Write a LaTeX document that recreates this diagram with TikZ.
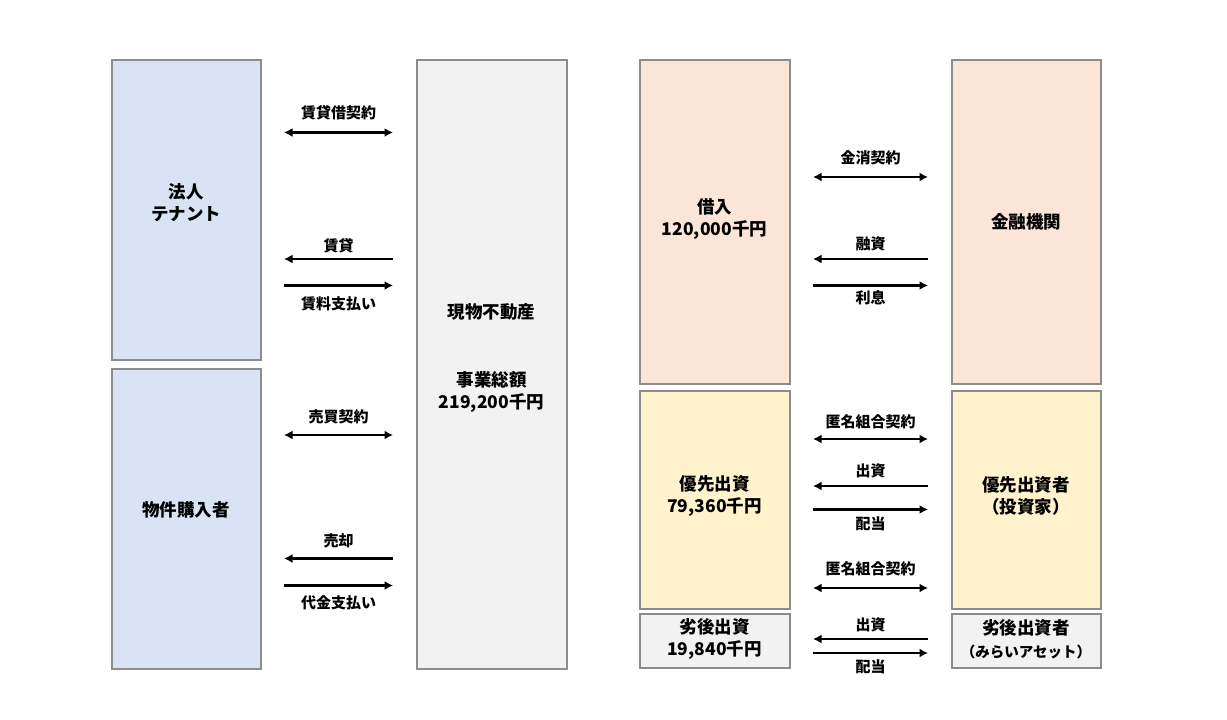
\documentclass[tikz,border=0pt]{standalone}
\usepackage{fontspec}
\setmainfont{Noto Sans CJK JP}
\usepackage{xcolor}
\usetikzlibrary{arrows.meta,calc}

\definecolor{edgegray}{HTML}{8C8C8C}
\definecolor{tenantblue}{HTML}{DAE3F3}
\definecolor{assetgray}{HTML}{F2F2F2}
\definecolor{loanpeach}{HTML}{FBE5D6}
\definecolor{equityyellow}{HTML}{FFF2CC}

\tikzset{
  box/.style={draw=edgegray, line width=2pt, minimum width=149, minimum height=#1, inner sep=0pt},
  boxtext/.style={inner sep=0pt, align=center, font=\bfseries\fontsize{17.5}{22.5}\selectfont},
  flowline/.style={line width=2.6pt},
  flowlabel/.style={inner sep=0pt, font=\bfseries\fontsize{15}{18}\selectfont},
  >={Latex[length=8.5pt,width=9pt]},
}

% arrow between two boxes: name, tips, left box, right box, arrow y, label y, text
\newcommand\flow[7]{%
  \draw[flowline,#2] ($(#3.east|-0,#5)+(22.5,0)$) -- ($(#4.west|-0,#5)+(-22.5,0)$);
  \node[flowlabel] (#1) at ($(#3.east|-0,#6)!0.5!(#4.west|-0,#6)$) {#7};}

\begin{document}
\begin{tikzpicture}[x=1pt,y=-1pt]
\useasboundingbox[fill=white] (0,0) rectangle (1227,720);
% left side
\node[box=300, fill=tenantblue] (tenant) at (186,209.5) {};
\node[box=300, fill=tenantblue] (buyer) at (186,518.5) {};
\node[box=609, fill=assetgray, minimum width=150] (asset) at (491.5,364) {};
\node[boxtext] (tenant-t) at ([yshift=7]tenant.center) {法人\\テナント};
\node[boxtext] (buyer-t) at ([yshift=8.5]buyer.center) {物件購入者};
\node[boxtext] (asset-t) at ([yshift=6]asset.center) {現物不動産\\ \\ \\事業総額\\219,200千円};
% right side
\node[box=324, fill=loanpeach, minimum width=150] (loan) at (714.5,221.5) {};
\node[box=324, fill=loanpeach] (bank) at (1026,221.5) {};
\node[box=218, fill=equityyellow, minimum width=150] (senior) at (714.5,499.5) {};
\node[box=218, fill=equityyellow] (seniorinv) at (1026,499.5) {};
\node[box=54, fill=assetgray, minimum width=150] (junior) at (714.5,640.5) {};
\node[box=54, fill=assetgray] (juniorinv) at (1026,640.5) {};
\node[boxtext] (loan-t) at ([yshift=2.5]loan.center) {借入\\120,000千円};
\node[boxtext] (bank-t) at (bank.center) {金融機関};
\node[boxtext] (senior-t) at ([yshift=3.5]senior.center) {優先出資\\79,360千円};
\node[boxtext] (seniorinv-t) at ([yshift=3.5]seniorinv.center) {優先出資者\\（投資家）};
\node[boxtext] (junior-t) at ([yshift=1.5]junior.center) {劣後出資\\19,840千円};
\node[boxtext] (juniorinv-t) at ([yshift=1.5]juniorinv.center)
  {劣後出資者\\{\fontsize{14.5}{18}\selectfont （みらいアセット）}};
%
\flow{lease}{<->}{tenant}{asset}{132.5}{113}{賃貸借契約}
\flow{letting}{<-}{tenant}{asset}{259}{246}{賃貸}
\flow{rent}{->}{tenant}{asset}{285.5}{304}{賃料支払い}
\flow{sale}{<->}{buyer}{asset}{435}{417}{売買契約}
\flow{transfer}{<-}{buyer}{asset}{558.5}{541}{売却}
\flow{payment}{->}{buyer}{asset}{585.5}{603}{代金支払い}
%
\flow{loandeal}{<->}{loan}{bank}{177}{158}{金消契約}
\flow{lending}{<-}{loan}{bank}{259}{244}{融資}
\flow{interest}{->}{loan}{bank}{285.5}{298}{利息}
\flow{tkone}{<->}{senior}{seniorinv}{439}{422}{匿名組合契約}
\flow{investone}{<-}{senior}{seniorinv}{486}{471}{出資}
\flow{dividendone}{->}{senior}{seniorinv}{509.5}{524}{配当}
\flow{tktwo}{<->}{senior}{seniorinv}{588}{569}{匿名組合契約}
\flow{investtwo}{<-}{junior}{juniorinv}{639}{625}{出資}
\flow{dividendtwo}{->}{junior}{juniorinv}{653}{667}{配当}
\end{tikzpicture}
\end{document}
